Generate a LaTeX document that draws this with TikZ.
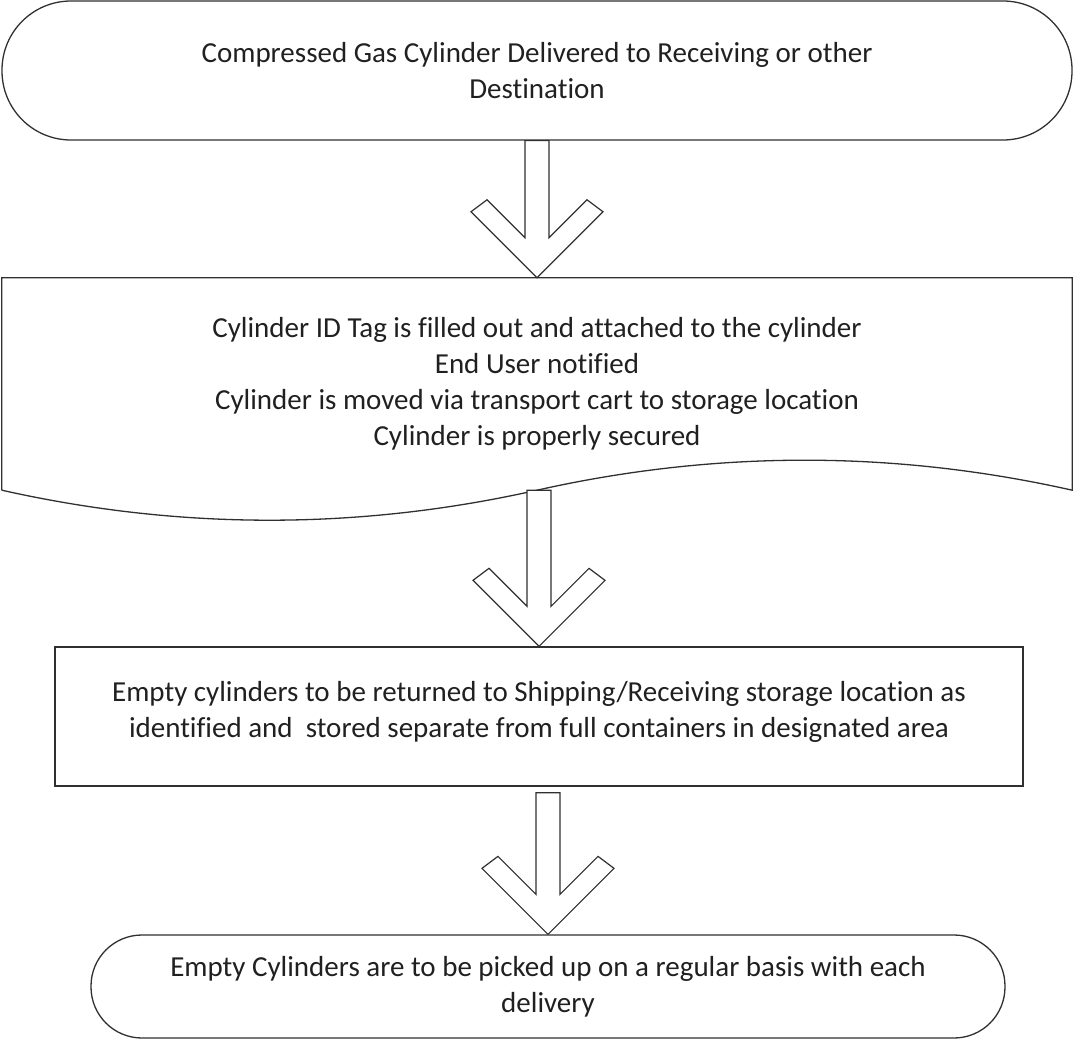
\documentclass[tikz,border=0pt]{standalone}
\usepackage{fontspec}
\setmainfont{Carlito}[Ligatures=NoCommon]
\usetikzlibrary{calc}
\definecolor{ink}{HTML}{202020}
\definecolor{edge}{HTML}{303030}
\newcommand\blockarrow[2]{%
  \draw[arrowline] let \p1=(#1), \p2=(#2) in
    (\x2-12,\y1) -- (\x2-12,\y2+40) -- (\x2-50,\y2+78) -- (\x2-66,\y2+66)
    -- (\x2,\y2) -- (\x2+66,\y2+66) -- (\x2+50,\y2+78) -- (\x2+12,\y2+40)
    -- (\x2+12,\y1) -- cycle;}
\begin{document}
\begin{tikzpicture}[x=1pt,y=-1pt,
  every node/.style={text=ink,font=\fontsize{29}{36}\selectfont,align=center,inner sep=0pt},
  shapeline/.style={draw=edge,line width=1.3pt},
  terminal/.style={shapeline,rectangle},
  arrowline/.style={draw=edge,line width=1.2pt,fill=white,line join=miter}]
\useasboundingbox (0,0) rectangle (1074,1040);
% top terminal
\node[terminal,rounded corners=69pt,minimum width=1070pt,minimum height=139pt] (top) at (537,70.5)
  {Compressed Gas Cylinder Delivered to Receiving or other\\Destination};
% document shape
\node[minimum width=1070pt,minimum height=212pt] (doc) at (537,384)
  {Cylinder ID Tag is filled out and attached to the cylinder\\End User notified\\Cylinder is moved via transport cart to storage location\\Cylinder is properly secured};
\draw[shapeline] (doc.south west) -- (doc.north west) -- (doc.north east) -- (doc.south east)
  .. controls ($(doc.south east)+(-178,-40)$) and ($(doc.south east)+(-357,-40)$) .. (doc.south)
  .. controls ($(doc.south)+(-178,40)$) and ($(doc.south)+(-357,40)$) .. (doc.south west);
% process box
\node[shapeline,rectangle,minimum width=968pt,minimum height=139pt] (proc) at (539,716.5)
  {Empty cylinders to be returned to Shipping/Receiving storage location as\\identified and \ stored separate from full containers in designated area\\[-22pt]};
% bottom terminal
\node[terminal,rounded corners=51pt,minimum width=914pt,minimum height=103pt] (end) at (548,986.5)
  {Empty Cylinders are to be picked up on a regular basis with each\\delivery};
% block arrows
\coordinate (a3s) at ($(proc.south)+(0,6)$);
\blockarrow{top.south}{doc.north}
\blockarrow{doc.south}{proc.north}
\blockarrow{a3s}{end.north}
\end{tikzpicture}
\end{document}
